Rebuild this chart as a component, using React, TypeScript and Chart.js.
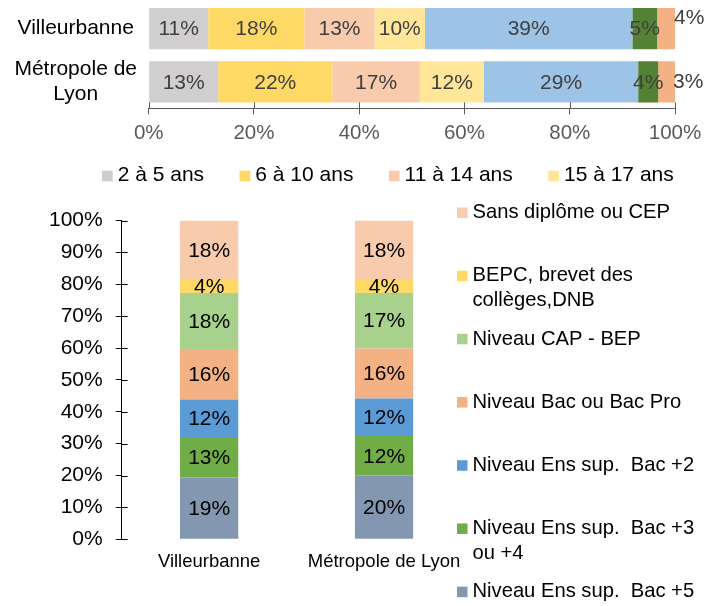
import React, { useEffect, useRef } from 'react';
import { Chart, registerables } from 'chart.js';

Chart.register(...registerables);

const FONT = '"Liberation Sans", Arial, sans-serif';
Chart.defaults.font.family = FONT;

// ---------- data ----------
const communes = ['Villeurbanne', 'Métropole de Lyon'];

const ageGroups = ['2 à 5 ans', '6 à 10 ans', '11 à 14 ans', '15 à 17 ans', '18 à 24 ans', '25 à 29 ans', '30 ans ou plus'];
const ageVilleurbanne = [11.3, 18.3, 13.3, 9.6, 39.4, 4.7, 3.6];
const ageMetropole = [13.2, 21.7, 16.6, 12.2, 29.3, 3.8, 3.2];
const ageColors = ['#D0CECE', '#FFD966', '#F8CBAD', '#FFE699', '#9DC3E6', '#548235', '#F4B183'];
const ageLegendCount = 4;
const ageTickStep = 20;

const diplomaLevels = [
  'Niveau Ens sup.  Bac +5',
  'Niveau Ens sup.  Bac +3 ou +4',
  'Niveau Ens sup.  Bac +2',
  'Niveau Bac ou Bac Pro',
  'Niveau CAP - BEP',
  'BEPC, brevet des collèges,DNB',
  'Sans diplôme ou CEP',
];
const diplomaVilleurbanne = [19.4, 12.7, 11.8, 15.8, 17.6, 4.4, 18.3];
const diplomaMetropole = [20.0, 12.4, 11.8, 15.7, 17.4, 4.4, 18.3];
const diplomaColors = ['#8497B0', '#70AD47', '#5B9BD5', '#F4B183', '#A9D18E', '#FFD966', '#F8CBAD'];
const diplomaTickStep = 10;

// ---------- helpers ----------
function wrapByChars(text: string, max: number): string | string[] {
  const words = text.split(' ');
  const lines: string[] = [];
  let cur = '';
  words.forEach((w) => {
    const next = cur ? cur + ' ' + w : w;
    if (cur && next.length > max) {
      lines.push(cur);
      cur = w;
    } else cur = next;
  });
  if (cur) lines.push(cur);
  return lines.length === 1 ? lines[0] : lines;
}

function wrapByWidth(ctx: CanvasRenderingContext2D, text: string, maxWidth: number): string[] {
  const words = text.split(' ');
  const lines: string[] = [];
  let cur = '';
  words.forEach((w, i) => {
    const next = i === 0 ? w : cur + ' ' + w;
    if (cur.trim() && w && ctx.measureText(next).width > maxWidth) {
      lines.push(cur);
      cur = w;
    } else cur = next;
  });
  if (cur) lines.push(cur);
  return lines;
}

// ---------- plugins ----------
const valueLabels = {
  id: 'valueLabels',
  afterDatasetsDraw(chart: any, _args: any, opts: any) {
    const { ctx } = chart;
    ctx.save();
    ctx.font = `${opts.size}px ${FONT}`;
    ctx.fillStyle = opts.color;
    ctx.textBaseline = 'middle';
    chart.data.datasets.forEach((ds: any, di: number) => {
      const meta = chart.getDatasetMeta(di);
      meta.data.forEach((el: any, i: number) => {
        const text = Math.round(ds.data[i]) + '%';
        const c = el.getCenterPoint();
        if (opts.outside === di) {
          ctx.textAlign = 'left';
          const lift = i === 0 ? opts.lift || 0 : 0;
          ctx.fillText(text, el.x - 2, c.y - lift);
        } else {
          ctx.textAlign = 'center';
          ctx.fillText(text, c.x, c.y + 1);
        }
      });
    });
    ctx.restore();
  },
};

const innerTicks = {
  id: 'innerTicks',
  afterDraw(chart: any, _args: any, opts: any) {
    const scale = chart.scales[opts.axis];
    if (!scale) return;
    const { ctx, chartArea } = chart;
    ctx.save();
    ctx.strokeStyle = opts.color;
    ctx.lineWidth = 1;
    ctx.beginPath();
    scale.ticks.forEach((_t: any, i: number) => {
      if (scale.isHorizontal()) {
        const x = Math.round(scale.getPixelForTick(i)) + 0.5;
        ctx.moveTo(x, chartArea.bottom - opts.length);
        ctx.lineTo(x, chartArea.bottom);
      } else {
        const y = Math.round(scale.getPixelForTick(i)) + 0.5;
        ctx.moveTo(chartArea.left, y);
        ctx.lineTo(chartArea.left + opts.length, y);
      }
    });
    ctx.stroke();
    ctx.restore();
  },
};

const rowLegend = {
  id: 'rowLegend',
  afterDraw(chart: any, _args: any, opts: any) {
    if (!opts || !opts.display) return;
    const { ctx } = chart;
    ctx.save();
    ctx.font = `${opts.size}px ${FONT}`;
    ctx.textBaseline = 'middle';
    ctx.textAlign = 'left';
    let x = opts.x;
    chart.data.datasets.slice(0, opts.count).forEach((ds: any) => {
      ctx.fillStyle = ds.backgroundColor;
      ctx.fillRect(x, opts.y - opts.box / 2 + 1, opts.box, opts.box);
      ctx.fillStyle = opts.color;
      const tx = x + opts.box + opts.gap;
      ctx.fillText(ds.label, tx, opts.y);
      x = tx + ctx.measureText(ds.label).width + opts.spacing;
    });
    ctx.restore();
  },
};

const sideLegend = {
  id: 'sideLegend',
  afterDraw(chart: any, _args: any, opts: any) {
    if (!opts || !opts.display) return;
    const { ctx } = chart;
    ctx.save();
    ctx.font = `${opts.size}px ${FONT}`;
    ctx.textBaseline = 'middle';
    ctx.textAlign = 'left';
    const items = chart.data.datasets
      .map((d: any) => ({ label: d.label, color: d.backgroundColor }))
      .reverse();
    items.forEach((it: any, k: number) => {
      const y = opts.top + k * opts.step;
      ctx.fillStyle = it.color;
      ctx.fillRect(opts.x, y - opts.box / 2, opts.box, opts.box);
      ctx.fillStyle = opts.color;
      wrapByWidth(ctx, it.label, opts.maxWidth).forEach((line, j) => {
        ctx.fillText(line, opts.x + opts.box + opts.gap, y + j * opts.lineHeight);
      });
    });
    ctx.restore();
  },
};

// ---------- configs ----------
function topConfig(): any {
  return {
    type: 'bar',
    data: {
      labels: communes.map((c) => wrapByChars(c, 12)),
      datasets: ageGroups.map((g, i) => ({
        label: g,
        data: [ageVilleurbanne[i], ageMetropole[i]],
        backgroundColor: ageColors[i],
        borderWidth: 0,
        barPercentage: 0.775,
        categoryPercentage: 1,
      })),
    },
    plugins: [valueLabels, innerTicks, rowLegend],
    options: {
      indexAxis: 'y',
      responsive: false,
      animation: false,
      layout: { padding: { top: 2.1, left: 0, right: 43, bottom: 0 } },
      scales: {
        x: {
          stacked: true,
          min: 0,
          max: 100,
          ticks: {
            stepSize: ageTickStep,
            callback: (v: any) => v + '%',
            color: '#595959',
            font: { size: 20.5, family: FONT },
            padding: 6.3,
          },
          grid: { drawOnChartArea: false, tickLength: 6, color: '#595959' },
          border: { color: '#595959', width: 1 },
          afterFit: (s: any) => {
            s.height = 86.6;
          },
        },
        y: {
          stacked: true,
          ticks: {
            color: '#000',
            font: { size: 21, family: FONT },
            crossAlign: 'center',
            padding: 11.7,
            autoSkip: false,
          },
          grid: { display: false, drawTicks: false },
          border: { display: false },
          afterFit: (s: any) => {
            s.width = 148.7;
            s.paddingTop = 0;
            s.paddingBottom = 0;
          },
        },
      },
      plugins: {
        legend: { display: false },
        tooltip: { enabled: false },
        valueLabels: { size: 21, color: '#404040', outside: 6, lift: 10.5 },
        innerTicks: { axis: 'x', length: 6, color: '#595959' },
        rowLegend: {
          display: true,
          count: ageLegendCount,
          x: 102,
          y: 175,
          box: 10.7,
          gap: 5,
          spacing: 35.5,
          size: 21,
          color: '#000',
        },
      },
    },
  };
}

function bottomConfig(): any {
  return {
    type: 'bar',
    data: {
      labels: communes,
      datasets: diplomaLevels.map((l, i) => ({
        label: l,
        data: [diplomaVilleurbanne[i], diplomaMetropole[i]],
        backgroundColor: diplomaColors[i],
        borderWidth: 0,
        barPercentage: 0.333,
        categoryPercentage: 1,
      })),
    },
    plugins: [valueLabels, innerTicks, sideLegend],
    options: {
      responsive: false,
      animation: false,
      layout: { padding: { top: 24.3, right: 246.5, left: 0, bottom: 0 } },
      scales: {
        x: {
          stacked: true,
          grid: { display: false, drawTicks: false },
          border: { display: false },
          ticks: { color: '#000', font: { size: 18.5, family: FONT }, padding: 11.4 },
          afterFit: (s: any) => {
            s.height = 66.7;
          },
        },
        y: {
          stacked: true,
          min: 0,
          max: 100,
          ticks: {
            stepSize: diplomaTickStep,
            callback: (v: any) => v + '%',
            color: '#000',
            font: { size: 21, family: FONT },
            padding: 13,
          },
          grid: { drawOnChartArea: false, tickLength: 6, color: '#000' },
          border: { color: '#000', width: 1 },
          afterFit: (s: any) => {
            s.width = 121.7;
          },
        },
      },
      plugins: {
        legend: { display: false },
        tooltip: { enabled: false },
        valueLabels: { size: 21, color: '#000' },
        innerTicks: { axis: 'y', length: 6, color: '#000' },
        sideLegend: {
          display: true,
          x: 457,
          top: 17.7,
          step: 63.2,
          box: 10.5,
          gap: 5,
          size: 20.2,
          lineHeight: 24.5,
          maxWidth: 240,
          color: '#000',
        },
      },
    },
  };
}

export default function App() {
  const topRef = useRef<HTMLCanvasElement>(null);
  const botRef = useRef<HTMLCanvasElement>(null);

  useEffect(() => {
    const a = new Chart(topRef.current as HTMLCanvasElement, topConfig());
    const b = new Chart(botRef.current as HTMLCanvasElement, bottomConfig());
    return () => {
      a.destroy();
      b.destroy();
    };
  }, []);

  return (
    <div style={{ position: 'absolute', left: 0, top: 0, width: 718, height: 606, background: '#fff' }}>
      <canvas ref={topRef} width={718} height={195} style={{ position: 'absolute', left: 0, top: 0 }} />
      <canvas ref={botRef} width={718} height={411} style={{ position: 'absolute', left: 0, top: 195 }} />
    </div>
  );
}
